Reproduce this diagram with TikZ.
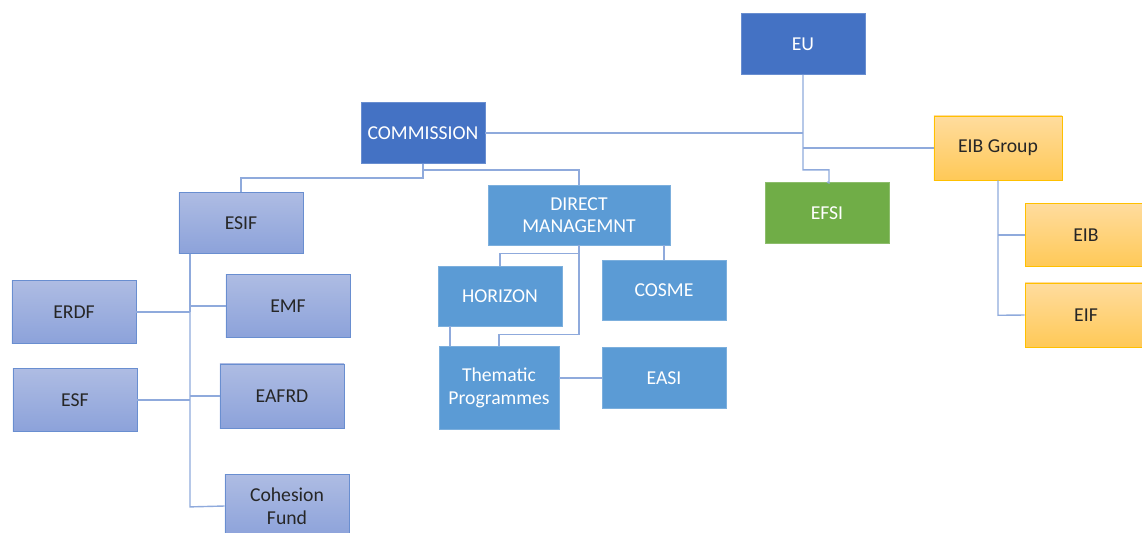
\documentclass[tikz,border=0pt]{standalone}
\usepackage{fontspec}
\setmainfont{Carlito}
\usetikzlibrary{positioning,calc}
\definecolor{eublue}{HTML}{4472C4}
\definecolor{dmblue}{HTML}{5B9BD5}
\definecolor{efsigreen}{HTML}{70AD47}
\definecolor{linkblue}{HTML}{8FAADC}
\definecolor{fundtop}{HTML}{AEBCE3}
\definecolor{fundbot}{HTML}{8CA2DA}
\definecolor{eibtop}{HTML}{FFDC9E}
\definecolor{eibbot}{HTML}{FFC957}
\definecolor{eibline}{HTML}{FFC000}
\tikzstyle{boxbase} = [rectangle, minimum width=3.1cm, minimum height=1.53cm, text centered, align=center, font=\fontsize{14}{16}\selectfont, inner sep=2pt]
\tikzstyle{topbox} = [boxbase, fill=eublue, draw=eublue!80!white, text=white]
\tikzstyle{dmbox} = [boxbase, fill=dmblue, draw=dmblue!80!white, text=white]
\tikzstyle{greenbox} = [boxbase, fill=efsigreen, draw=efsigreen!80!white, text=white]
\tikzstyle{fund} = [boxbase, top color=fundtop, bottom color=fundbot, draw=eublue!80!white, text=black!85]
\tikzstyle{eibbox} = [boxbase, top color=eibtop, bottom color=eibbot, draw=eibline, text=black!85]
\tikzstyle{link} = [draw=linkblue, line width=1pt]

\begin{document}
\begin{tikzpicture}[x=0.025cm,y=-0.025cm]
            \useasboundingbox (0,0) rectangle (1142,532);
            \clip (0,0) rectangle (1142,532);
            % top level
            \node (EU) [topbox] at (803,44) {EU};
            \node (Commission) [topbox] at (423,133) {COMMISSION};
            \node (EIBGroup) [eibbox, minimum width=3.2cm, minimum height=1.6cm] at (998,148) {EIB Group};
            \node (EFSI) [greenbox] at (827,213) {EFSI};
            % structural funds
            \node (ESIF) [fund] at (241,223) {ESIF};
            \node (ERDF) [fund, minimum height=1.58cm] at (74,312) {ERDF};
            \node (EMF) [fund, minimum height=1.58cm] at (288,306) {EMF};
            \node (ESF) [fund, minimum height=1.58cm] at (75,400) {ESF};
            \node (EAFRD) [fund, minimum height=1.6cm] at (282,396) {EAFRD};
            \node (Cohesion) [fund, minimum height=1.58cm] at (287,506) {Cohesion\\Fund};
            % direct management
            \node (Direct) [dmbox, minimum width=4.55cm, minimum height=1.5cm] at (579,215) {DIRECT\\MANAGEMNT};
            \node (Horizon) [dmbox, minimum height=1.5cm] at (500,296) {HORIZON};
            \node (Cosme) [dmbox, minimum height=1.5cm] at (664,290) {COSME};
            \node (Thematic) [dmbox, minimum width=3cm, minimum height=2.08cm] at (499,388) {Thematic\\Programmes};
            \node (EASI) [dmbox, minimum height=1.53cm] at (664,378) {EASI};
            % EIB group
            \node (EIB) [eibbox, minimum width=3.05cm, minimum height=1.58cm] at (1086,235) {EIB};
            \node (EIF) [eibbox, minimum width=3.05cm, minimum height=1.6cm] at (1086,315) {EIF};

            % connectors
            \draw[link] (EU.south) -- ++(0,95) coordinate (eubend) -| ++(26,13) -- (EFSI.north);
            \draw[link] (Commission.east) -- (Commission.east -| EU.south);
            \draw[link] (EIBGroup.west) -- (EIBGroup.west -| EU.south);
            \draw[link] (Commission.south) -- ++(0,14) -| (ESIF.north);
            \draw[link] ($(Commission.south)+(0,6)$) -| (Direct.north);
            \draw[link] ($(ESIF.south)+(-51,0)$) coordinate (esifdown) -- ($(esifdown)+(0,253)$) -- (Cohesion.west);
            \draw[link, line width=1.6pt] (esifdown) -- ($(esifdown)+(0,58)$);
            \draw[link] (ERDF.east) -- (ERDF.east -| esifdown);
            \draw[link] (EMF.west) -- (EMF.west -| esifdown);
            \draw[link] (ESF.east) -- (ESF.east -| esifdown);
            \draw[link] (EAFRD.west) -- (EAFRD.west -| esifdown);
            \draw[link] (Direct.south) -- ++(0,89) -| (Thematic.north);
            \draw[link] ($(Direct.south)+(0,8)$) -| (Horizon.north);
            \draw[link] (Direct.south -| Cosme.north) -- (Cosme.north);
            \draw[link] ($(Horizon.south)+(-50,0)$) -- ($(Thematic.north)+(-49,0)$);
            \draw[link] (EASI.west -| Thematic.east) -- (EASI.west);
            \draw[link] (EIBGroup.south) -- ++(0,135) coordinate (eibend) -- (EIF.west);
            \draw[link] (EIB.west) -- (EIB.west -| EIBGroup.south);

        \end{tikzpicture}
\end{document}
